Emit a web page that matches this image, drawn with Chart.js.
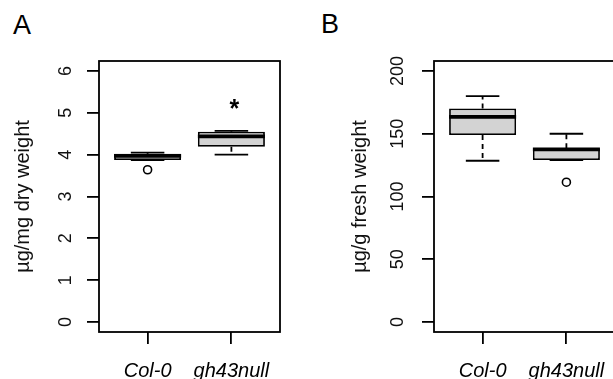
<!DOCTYPE html>
<html><head><meta charset="utf-8">
<script src="https://cdn.jsdelivr.net/npm/chart.js@4/dist/chart.umd.min.js"></script>
<style>
html,body{margin:0;padding:0;width:613px;height:379px;overflow:hidden;background:#fff;}
canvas{position:absolute;top:0;}
#ca{left:0;} #cb{left:335px;}
.lab{position:absolute;font-family:"Liberation Sans",Arial,sans-serif;font-size:27px;line-height:27px;color:#000;}
</style></head><body>
<div class="lab" style="left:13px;top:12px">A</div>
<div class="lab" style="left:321px;top:11px">B</div>
<canvas id="ca" width="306" height="379"></canvas>
<canvas id="cb" width="306" height="379"></canvas>
<script>
// ---------- data ----------
const categories = ['Col-0', 'gh43null'];

// Panel A: µg/mg dry weight
const dryQ1 = [3.87, 4.19];
const dryMedian = [3.97, 4.44];
const dryQ3 = [4.02, 4.55];
const dryWhiskerLow = [3.87, 4.00];
const dryWhiskerHigh = [4.05, 4.57];
const dryOutliers = [[3.64], []];
const dryTicks = [0, 1, 2, 3, 4, 5, 6];
const drySignificance = ['', '*'];
const drySignificanceAt = [null, 5.2];

// Panel B: µg/g fresh weight
const freshQ1 = [149, 129];
const freshMedian = [163.5, 137.5];
const freshQ3 = [170.2, 138.5];
const freshWhiskerLow = [128.5, 129];
const freshWhiskerHigh = [180, 150];
const freshOutliers = [[], [111.4]];
const freshTicks = [0, 50, 100, 150, 200];

// ---------- drawing ----------
const FONT = '"Liberation Sans", Arial, Helvetica, sans-serif';
const LW = 1.8;

const boxPlugin = {
  id: 'boxExtras',
  afterDatasetsDraw(chart, args, o) {
    const {ctx, chartArea: a, scales: {x, y}} = chart;
    const bars = chart.getDatasetMeta(0).data;
    ctx.save();
    ctx.strokeStyle = '#000';
    ctx.fillStyle = '#000';
    const seg = (x1, y1, x2, y2) => { ctx.beginPath(); ctx.moveTo(x1, y1); ctx.lineTo(x2, y2); ctx.stroke(); };
    for (let i = 0; i < o.median.length; i++) {
      const cx = x.getPixelForValue(i + 1);
      const half = bars[i].width / 2;
      const cap = half / 2;
      // whiskers
      ctx.lineWidth = LW;
      ctx.setLineDash([5, 4]);
      if (o.hi[i] > o.q3[i]) seg(cx, y.getPixelForValue(o.q3[i]), cx, y.getPixelForValue(o.hi[i]));
      if (o.lo[i] < o.q1[i]) seg(cx, y.getPixelForValue(o.q1[i]), cx, y.getPixelForValue(o.lo[i]));
      ctx.setLineDash([]);
      seg(cx - cap, y.getPixelForValue(o.hi[i]), cx + cap, y.getPixelForValue(o.hi[i]));
      seg(cx - cap, y.getPixelForValue(o.lo[i]), cx + cap, y.getPixelForValue(o.lo[i]));
      // median
      ctx.lineWidth = 3.8;
      seg(cx - half, y.getPixelForValue(o.median[i]), cx + half, y.getPixelForValue(o.median[i]));
      // significance mark
      if (o.sig && o.sig[i]) {
        ctx.font = 'bold 25px ' + FONT;
        ctx.textAlign = 'center';
        ctx.textBaseline = 'alphabetic';
        const m = ctx.measureText(o.sig[i]);
        const py = y.getPixelForValue(o.sigAt[i]) + (m.actualBoundingBoxAscent - m.actualBoundingBoxDescent) / 2;
        ctx.fillText(o.sig[i], cx + 3, py);
      }
    }
    // frame
    ctx.lineWidth = LW;
    ctx.strokeRect(a.left, a.top, a.right - a.left, a.bottom - a.top);
    // rotated y tick labels (R style, parallel to the axis), taken from the scale's ticks
    ctx.font = '18px ' + FONT;
    ctx.fillStyle = '#111';
    ctx.textAlign = 'center';
    ctx.textBaseline = 'middle';
    y.ticks.forEach(t => {
      const py = y.getPixelForValue(t.value);
      ctx.save();
      ctx.translate(a.left - o.labelGap, py);
      ctx.rotate(-Math.PI / 2);
      ctx.fillText(String(t.value), 0, 0);
      ctx.restore();
    });
    ctx.restore();
  }
};

function makeChart(id, d) {
  const boxData = categories.map((c, i) => ({x: i + 1, y: [d.q1[i], d.q3[i]]}));
  const outData = [];
  d.out.forEach((arr, i) => arr.forEach(v => outData.push({x: i + 1, y: v})));
  const pad = (d.ymax - d.ymin) * 0.04;
  return new Chart(document.getElementById(id), {
    type: 'bar',
    data: {
      datasets: [
        {
          type: 'bar', data: boxData,
          backgroundColor: '#d3d3d3', borderColor: '#000', borderWidth: LW,
          borderSkipped: false, categoryPercentage: 1, barPercentage: 0.8, grouped: false
        },
        {
          type: 'scatter', data: outData,
          pointRadius: 4, pointBorderWidth: 1.6, pointBorderColor: '#000',
          pointBackgroundColor: 'rgba(0,0,0,0)', showLine: false
        }
      ]
    },
    options: {
      responsive: false, animation: false, devicePixelRatio: 1,
      layout: {padding: {top: 61, right: 26, left: 0, bottom: 0}},
      plugins: {
        legend: {display: false}, tooltip: {enabled: false},
        boxExtras: {q1: d.q1, q3: d.q3, median: d.median, lo: d.lo, hi: d.hi, sig: d.sig, sigAt: d.sigAt, labelGap: d.labelGap}
      },
      scales: {
        x: {
          type: 'linear', min: 0.42, max: 2.58, offset: false,
          afterBuildTicks: s => { s.ticks = categories.map((c, i) => ({value: i + 1})); },
          afterFit: s => { s.height = 47; },
          ticks: {
            autoSkip: false, maxRotation: 0, minRotation: 0, padding: 15, color: '#000',
            font: {family: FONT, size: 20, style: 'italic'},
            callback: (v, i) => categories[i]
          },
          grid: {offset: false, drawOnChartArea: false, drawTicks: true, tickLength: 12, color: '#000', lineWidth: LW},
          border: {display: false}
        },
        y: {
          type: 'linear', min: d.ymin - pad, max: d.ymax + pad,
          afterBuildTicks: s => { s.ticks = d.ticks.map(v => ({value: v})); },
          afterFit: s => { s.width = 99; },
          ticks: {display: false},
          grid: {drawOnChartArea: false, drawTicks: true, tickLength: 12, color: '#000', lineWidth: LW},
          border: {display: false},
          title: {display: true, text: d.title, color: '#111', font: {family: FONT, size: 20}, padding: {top: d.titlePad, bottom: 0}}
        }
      }
    },
    plugins: [boxPlugin]
  });
}

makeChart('ca', {
  q1: dryQ1, q3: dryQ3, median: dryMedian, lo: dryWhiskerLow, hi: dryWhiskerHigh, out: dryOutliers,
  ticks: dryTicks, ymin: 0, ymax: 6, title: 'µg/mg dry weight', sig: drySignificance, sigAt: drySignificanceAt,
  labelGap: 32.5, titlePad: 11
});
makeChart('cb', {
  q1: freshQ1, q3: freshQ3, median: freshMedian, lo: freshWhiskerLow, hi: freshWhiskerHigh, out: freshOutliers,
  ticks: freshTicks, ymin: 0, ymax: 200, title: 'µg/g fresh weight', sig: null, sigAt: null,
  labelGap: 35.5, titlePad: 13
});
</script>
</body></html>
